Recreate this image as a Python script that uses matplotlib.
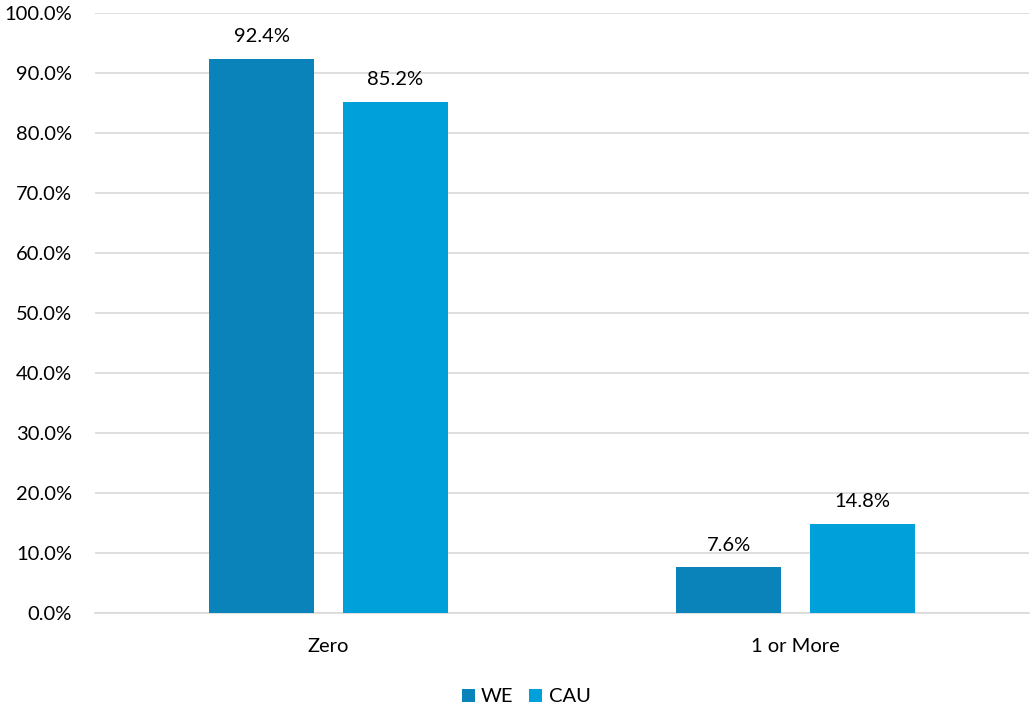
import matplotlib
matplotlib.use("Agg")
import matplotlib.pyplot as plt
import numpy as np
from matplotlib.ticker import FuncFormatter, MultipleLocator

categories = ["Zero", "1 or More"]
series_names = ["WE", "CAU"]
we_values = [92.4, 7.6]
cau_values = [85.2, 14.8]
colors = ["#0A82BA", "#00A0DA"]

plt.rcParams['font.family'] = ['Lato', 'DejaVu Sans']
FS = 14.5

fig = plt.figure(figsize=(10.30, 7.06), dpi=100)
ax = fig.add_axes([95/1030, 93/706, 934/1030, 600/706])

x = np.arange(len(categories))
w = 0.225
off = 0.1425
for vals, name, c, d in [(we_values, "WE", colors[0], -off), (cau_values, "CAU", colors[1], off)]:
    bars = ax.bar(x + d, vals, width=w, color=c, label=name, zorder=3)
    for b, v in zip(bars, vals):
        ax.annotate(f"{v:.1f}%", (b.get_x() + b.get_width()/2, v), xytext=(0, 10),
                    textcoords="offset points", ha="center", va="bottom", fontsize=FS, color="#000000")

ax.set_xlim(-0.5, 1.5)
ax.set_ylim(0, 100)
ax.yaxis.set_major_locator(MultipleLocator(10))
ax.yaxis.set_major_formatter(FuncFormatter(lambda v, p: f"{v:.1f}%"))
ax.grid(axis="y", color="#D9D9D9", linewidth=1.2, zorder=0)
for s in ["top", "right", "left"]:
    ax.spines[s].set_visible(False)
ax.spines["bottom"].set_color("#D9D9D9")
ax.spines["bottom"].set_linewidth(1.2)
ax.set_xticks(x)
ax.set_xticklabels(categories)
ax.tick_params(axis="both", length=0, labelsize=FS, colors="#000000")
ax.tick_params(axis="y", pad=16.5)
ax.tick_params(axis="x", pad=18)

leg = fig.legend(loc="center", bbox_to_anchor=(526/1030, 9/706), ncol=2, frameon=False,
                 fontsize=FS, handlelength=0.65, handleheight=0.65, handletextpad=0.3, columnspacing=0.8,
                 borderpad=0)

fig.savefig("out.png", dpi=100)
